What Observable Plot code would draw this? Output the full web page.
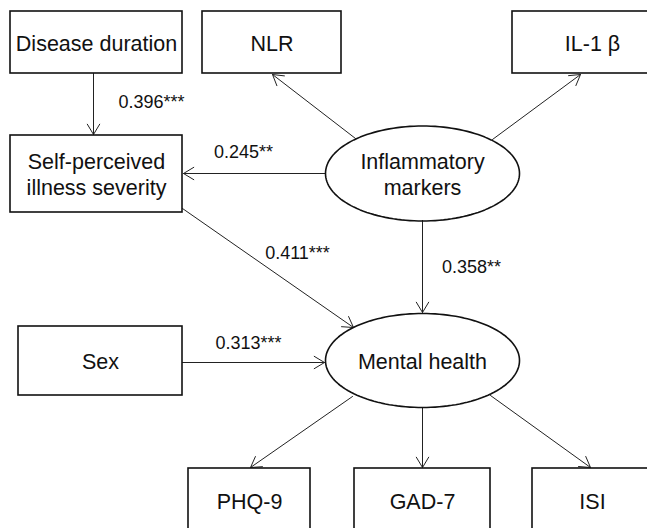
<!DOCTYPE html>
<html><head><meta charset="utf-8">
<script src="https://cdn.jsdelivr.net/npm/d3@7"></script>
<script src="https://cdn.jsdelivr.net/npm/@observablehq/plot@0.6"></script>
<style>body{margin:0;background:#fff;overflow:hidden}#chart svg{display:block}</style>
</head><body><div id="chart"></div>
<script>
// ---- Data: path model nodes and standardized coefficients ----
const nodeNames = ["Disease duration", "NLR", "IL-1 β", "Self-perceived\nillness severity",
  "Inflammatory\nmarkers", "Sex", "Mental health", "PHQ-9", "GAD-7", "ISI"];
const nodeKinds = ["observed", "observed", "observed", "observed", "latent",
  "observed", "latent", "observed", "observed", "observed"];
const edgeFrom = ["Disease duration", "Inflammatory\nmarkers", "Inflammatory\nmarkers", "Inflammatory\nmarkers",
  "Self-perceived\nillness severity", "Inflammatory\nmarkers", "Sex", "Mental health", "Mental health", "Mental health"];
const edgeTo = ["Self-perceived\nillness severity", "NLR", "IL-1 β", "Self-perceived\nillness severity",
  "Mental health", "Mental health", "Mental health", "PHQ-9", "GAD-7", "ISI"];
const edgeCoef = ["0.396***", "", "", "0.245**", "0.411***", "0.358**", "0.313***", "", "", ""];

// ---- Layout (diagram geometry, pixels) ----
const boxLayout = {
  "Disease duration": [10, 182, 11, 73],
  "NLR": [202, 341, 11, 73],
  "IL-1 β": [512, 672, 11, 73],
  "Self-perceived\nillness severity": [10, 182, 135, 212],
  "Sex": [18, 182, 326, 395],
  "PHQ-9": [188, 310, 468, 532],
  "GAD-7": [354, 490, 468, 532],
  "ISI": [532, 652, 468, 532]
};
const ellipseLayout = {
  "Inflammatory\nmarkers": [422, 173, 97, 47.5],
  "Mental health": [422, 360, 97, 47]
};
const edgeLayout = [
  [93, 73, 93, 134],
  [355, 138, 272, 74],
  [492, 139, 580, 74],
  [325, 173, 183, 173],
  [182, 208, 353, 327],
  [422, 220, 422, 312],
  [182, 362, 324, 362],
  [352, 396, 250, 467],
  [422, 407, 422, 467],
  [490, 395, 590, 467]
];
const coefLayout = [[151, 102], null, null, [243, 152], [297, 253], [471, 267], [248, 343], null, null, null];

const boxes = nodeNames.map((n, i) => ({n, k: nodeKinds[i]})).filter(d => d.k === "observed")
  .map(d => ({name: d.n, x1: boxLayout[d.n][0], x2: boxLayout[d.n][1], y1: boxLayout[d.n][2], y2: boxLayout[d.n][3]}));
const ellipses = nodeNames.map((n, i) => ({n, k: nodeKinds[i]})).filter(d => d.k === "latent")
  .map(d => ({name: d.n, cx: ellipseLayout[d.n][0], cy: ellipseLayout[d.n][1], rx: ellipseLayout[d.n][2], ry: ellipseLayout[d.n][3]}));
const outline = ellipses.flatMap(e => d3.range(0, 144).map(j => {
  const t = j / 144 * 2 * Math.PI;
  return {name: e.name, x: e.cx + e.rx * Math.cos(t), y: e.cy + e.ry * Math.sin(t)};
}));
const labels = [
  ...boxes.map(b => ({text: b.name, x: (b.x1 + b.x2) / 2, y: (Math.min(b.y2, 528) > 500 && b.y1 > 400) ? 500 : (b.y1 + b.y2) / 2})),
  ...ellipses.map(e => ({text: e.name, x: e.cx, y: e.cy - (e.name.includes("\n") ? 0 : 0)}))
];
const edges = edgeFrom.map((f, i) => ({from: f, to: edgeTo[i], coef: edgeCoef[i],
  x1: edgeLayout[i][0], y1: edgeLayout[i][1], x2: edgeLayout[i][2], y2: edgeLayout[i][3],
  lx: coefLayout[i] ? coefLayout[i][0] : null, ly: coefLayout[i] ? coefLayout[i][1] : null}));
const coefs = edges.filter(e => e.coef);

const chart = Plot.plot({
  width: 647, height: 528,
  margin: 0,
  x: {domain: [0, 647], range: [0, 647], axis: null},
  y: {domain: [0, 528], range: [0, 528], axis: null},
  style: {fontFamily: "'Liberation Sans', Arial, sans-serif", background: "#fff", overflow: "hidden"},
  marks: [
    Plot.arrow(edges, {x1: "x1", y1: "y1", x2: "x2", y2: "y2", stroke: "#222", strokeWidth: 1, headLength: 18, headAngle: 62}),
    Plot.rect(boxes, {x1: "x1", x2: "x2", y1: "y1", y2: "y2", fill: "none", stroke: "#111", strokeWidth: 1.6}),
    Plot.line(outline, {x: "x", y: "y", z: "name", curve: "linear-closed", stroke: "#111", strokeWidth: 1.6}),
    Plot.text(labels, {x: "x", y: "y", text: "text", fontSize: 21.5, lineHeight: 1.2, fill: "#111"}),
    Plot.text(coefs, {x: "lx", y: "ly", text: "coef", fontSize: 18, fill: "#111"})
  ]
});
document.getElementById("chart").appendChild(chart);
</script>
</body></html>
